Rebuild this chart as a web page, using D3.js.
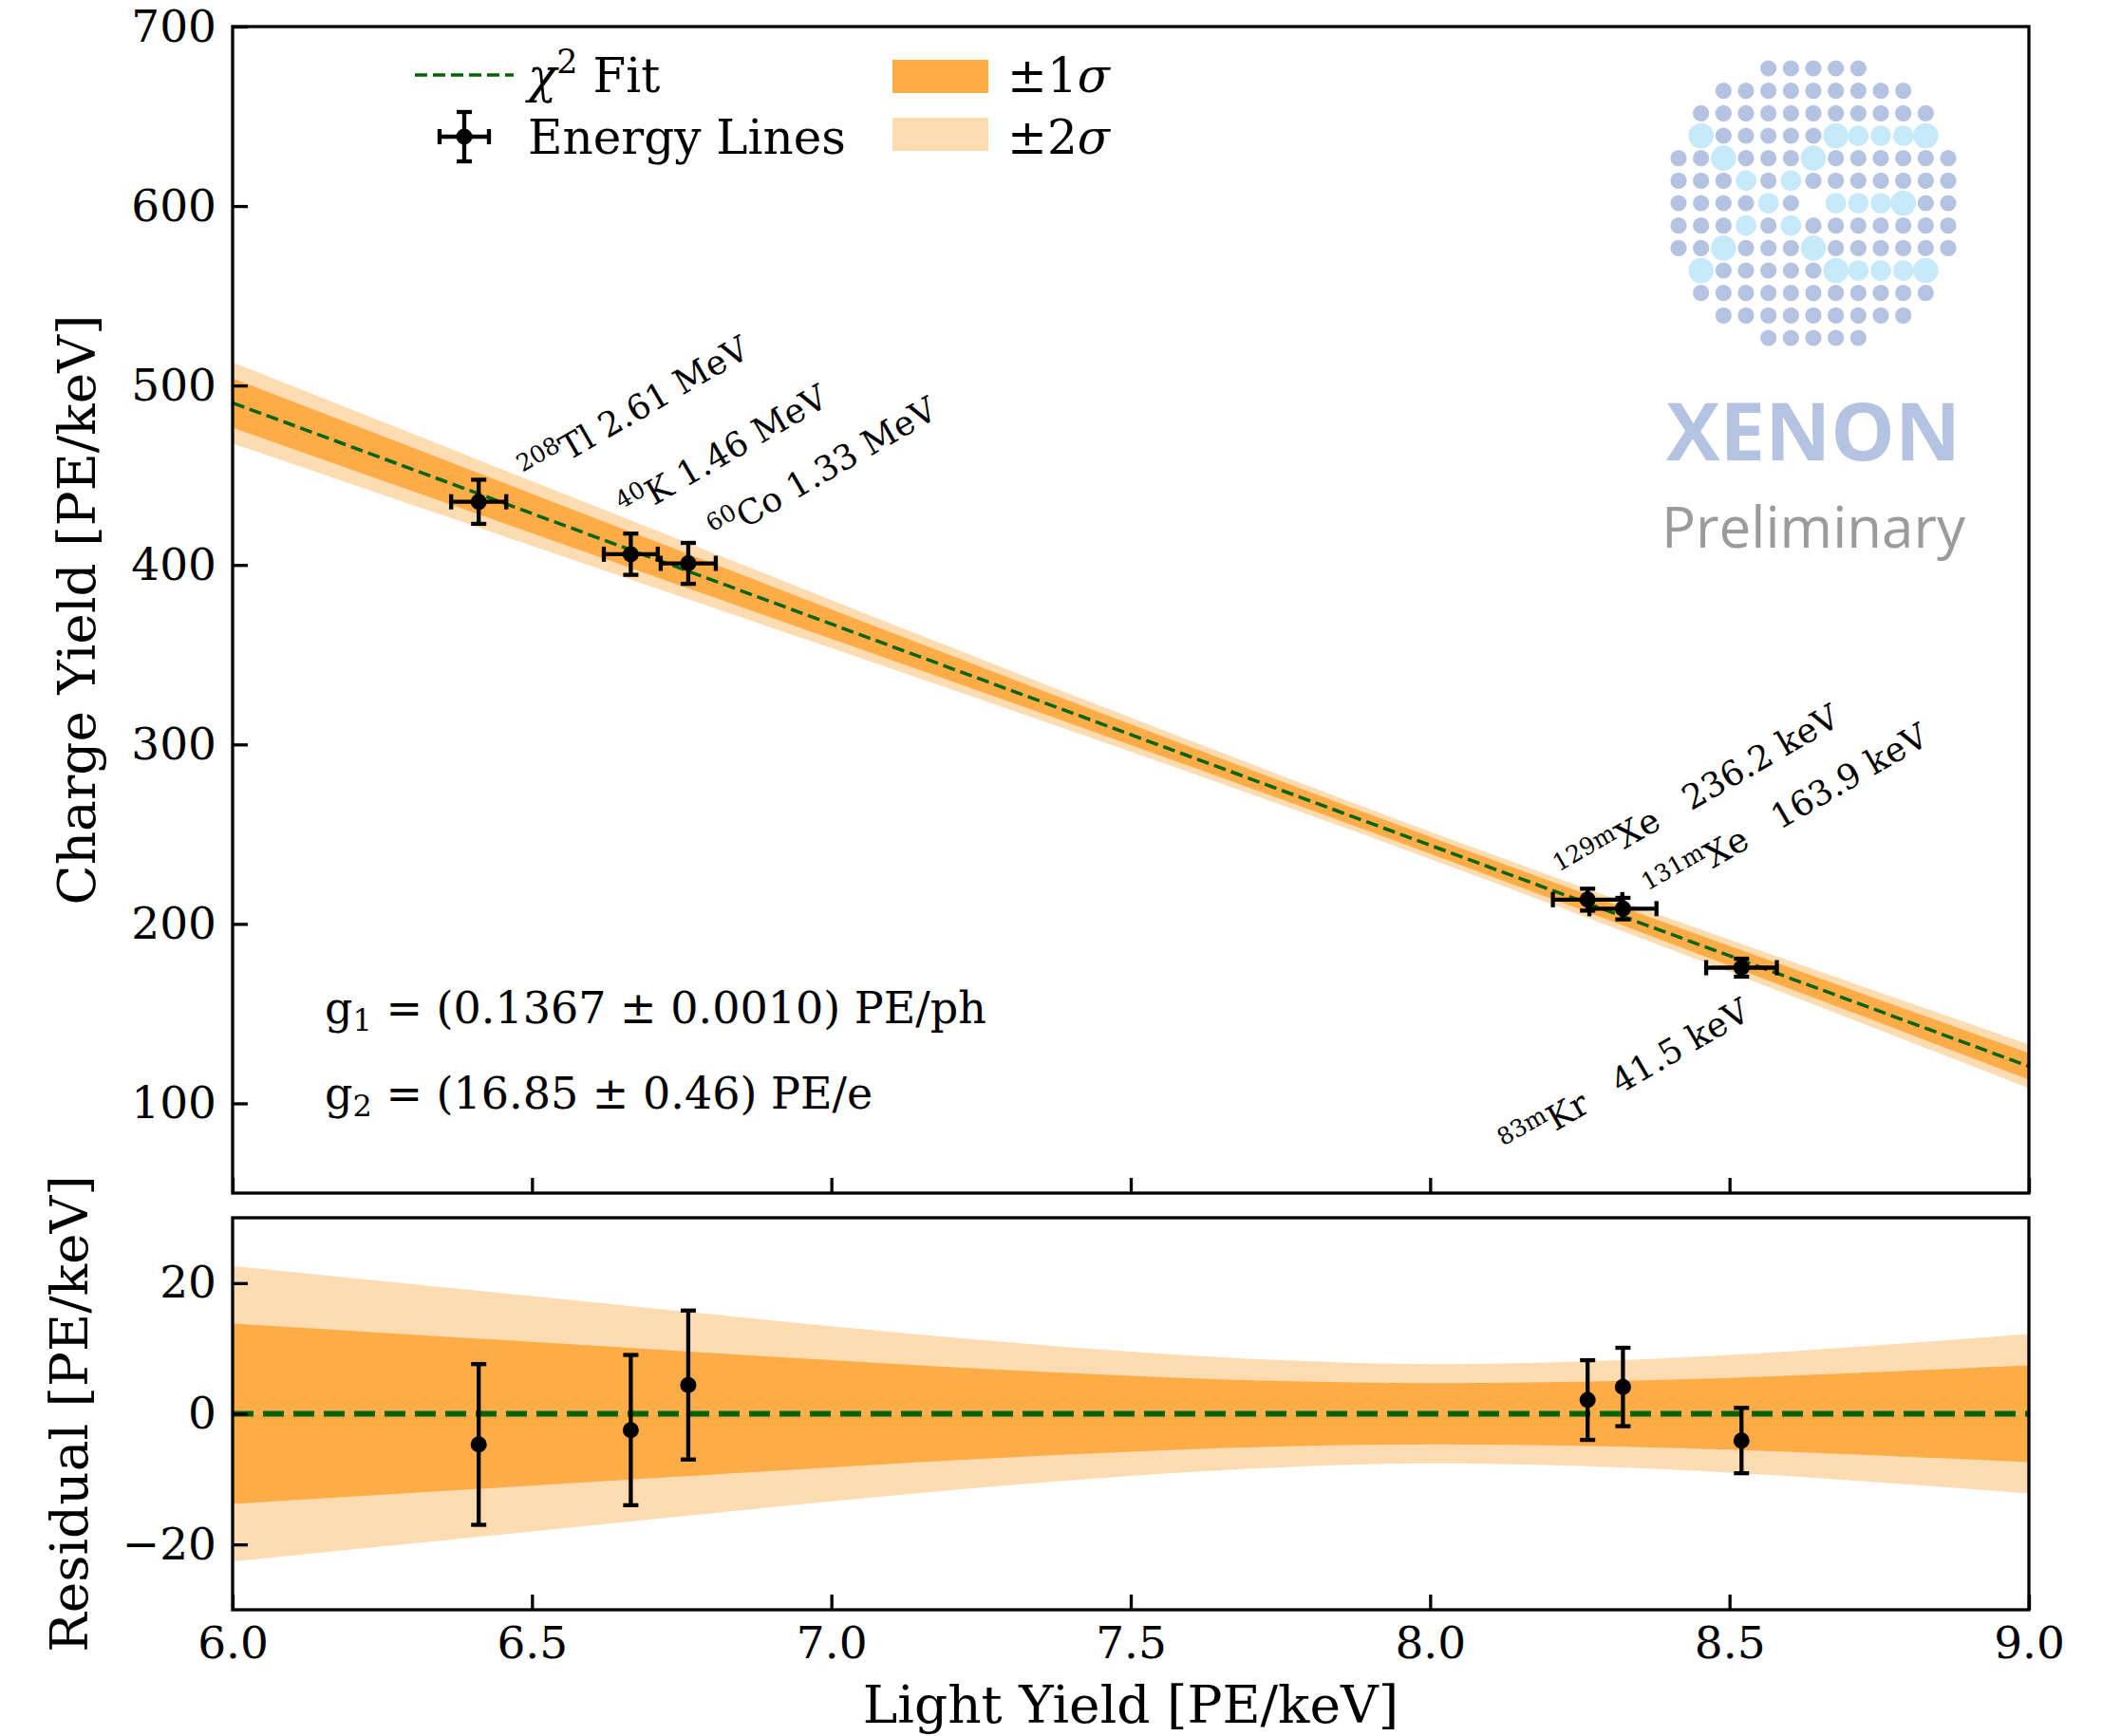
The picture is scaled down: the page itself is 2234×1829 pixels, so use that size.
<!DOCTYPE html>
<html>
<head>
<meta charset="utf-8">
<script src="https://cdn.jsdelivr.net/npm/d3@7"></script>
<style>
body { margin: 0; background: #fff; }
svg text { font-family: "DejaVu Serif", serif; fill: #000; }
</style>
</head>
<body>
<div id="chart"></div>
<script>
// energy lines
var lightYield  = [6.411, 6.665, 6.761, 8.263, 8.322, 8.520];
var lightErr    = [0.046, 0.045, 0.046, 0.058, 0.056, 0.059];
var chargeYield = [435.2, 406.0, 400.9, 213.5, 208.5, 175.6];
var chargeErr   = [12.3, 11.5, 11.4, 6.1, 6.0, 5.0];
var residual    = [-4.7, -2.5, 4.4, 2.1, 4.1, -4.1];

// annotation texts
var isotope = ["208", "40", "60", "129m", "131m", "83m"];
var element = ["Tl", "K", "Co", "Xe", "Xe", "Kr"];
var lineEnergy = ["2.61 MeV", "1.46 MeV", "1.33 MeV", "236.2 keV", "163.9 keV", "41.5 keV"];
var energyGap = [" ", " ", " ", "   ", "   ", "   "];
// where each label starts, in data units
var labelLY = [6.495, 6.660, 6.812, 8.226, 8.374, 8.133];
var labelCY = [445.1, 424.5, 411.8, 222.5, 211.9, 69.6];

// chi2 fit line end points
var fitLY = [6.0, 9.0];
var fitCY = [490.3, 120.6];

// fit uncertainty half widths
var bandLY  = [6.0, 6.25, 6.5, 6.75, 7.0, 7.25, 7.5, 7.75, 8.0, 8.25, 8.5, 8.75, 9.0];
var sigma1  = [13.8, 12.4, 11.0, 9.6, 8.2, 6.9, 5.8, 5.0, 4.7, 4.9, 5.5, 6.4, 7.4];
var sigma2  = [22.6, 20.3, 18.0, 15.7, 13.4, 11.3, 9.5, 8.2, 7.6, 8.0, 9.0, 10.5, 12.2];

var xTicks = [6.0, 6.5, 7.0, 7.5, 8.0, 8.5, 9.0];
var yTicks = [100, 200, 300, 400, 500, 600, 700];
var rTicks = [-20, 0, 20];

// logo pattern: d = blue dot, l / L = light dot (medium / big)
var logoRows = [
    "....ddddd....",
    "..ddddddddd..",
    ".ddddddddddd.",
    ".LdddddLlllL.",
    "ddLdddLdddddd",
    "dddldlddddddd",
    "ddddld.lllLdd",
    "dddldlddddddd",
    "ddLdddLdddddd",
    ".LdddddLlllL.",
    ".ddddddddddd.",
    "..ddddddddd..",
    "....ddddd...."
];

var W = 2234, H = 1829;
var left = 245, right = 2137;
var top1 = 28, bot1 = 1257, top2 = 1283, bot2 = 1696;

var c1 = "#fdac48", c2 = "#fedcb1", green = "#006400";

var svg = d3.select("#chart").append("svg")
    .attr("width", W)
    .attr("height", H);

var x = d3.scaleLinear().domain([6, 9]).range([left, right]);
var y = d3.scaleLinear().domain([50, 700]).range([bot1, top1]);
var yr = d3.scaleLinear().domain([-30, 30]).range([bot2, top2]);
var fit = d3.scaleLinear().domain(fitLY).range(fitCY);

var defs = svg.append("defs");
defs.append("clipPath").attr("id", "clip1").append("rect")
    .attr("x", left).attr("y", top1).attr("width", right - left).attr("height", bot1 - top1);
defs.append("clipPath").attr("id", "clip2").append("rect")
    .attr("x", left).attr("y", top2).attr("width", right - left).attr("height", bot2 - top2);

// ---------- top panel ----------
var p1 = svg.append("g").attr("clip-path", "url(#clip1)");

function bandArea(yScale, center, widths) {
    return d3.area()
        .curve(d3.curveMonotoneX)
        .x(function (d, i) { return x(bandLY[i]); })
        .y0(function (d, i) { return yScale(center(bandLY[i]) - widths[i]); })
        .y1(function (d, i) { return yScale(center(bandLY[i]) + widths[i]); });
}

p1.append("path").datum(bandLY)
    .attr("d", bandArea(y, fit, sigma2))
    .attr("fill", c2);
p1.append("path").datum(bandLY)
    .attr("d", bandArea(y, fit, sigma1))
    .attr("fill", c1);

p1.append("line")
    .attr("x1", x(fitLY[0])).attr("y1", y(fitCY[0]))
    .attr("x2", x(fitLY[1])).attr("y2", y(fitCY[1]))
    .attr("stroke", green)
    .attr("stroke-width", 3.5)
    .attr("stroke-dasharray", "13,6");

function errorBars(g, xs, ys, yScale, xe, ye) {
    var pts = g.selectAll("g.pt").data(xs).enter().append("g").attr("class", "pt");
    if (xe) {
        pts.append("line")
            .attr("x1", function (d, i) { return x(d - xe[i]); })
            .attr("x2", function (d, i) { return x(d + xe[i]); })
            .attr("y1", function (d, i) { return yScale(ys[i]); })
            .attr("y2", function (d, i) { return yScale(ys[i]); });
        pts.selectAll("line.capx").data(function (d, i) { return [[d - xe[i], ys[i]], [d + xe[i], ys[i]]]; })
            .enter().append("line")
            .attr("x1", function (d) { return x(d[0]); })
            .attr("x2", function (d) { return x(d[0]); })
            .attr("y1", function (d) { return yScale(d[1]) - 8; })
            .attr("y2", function (d) { return yScale(d[1]) + 8; });
    }
    pts.append("line")
        .attr("x1", function (d) { return x(d); })
        .attr("x2", function (d) { return x(d); })
        .attr("y1", function (d, i) { return yScale(ys[i] - ye[i]); })
        .attr("y2", function (d, i) { return yScale(ys[i] + ye[i]); });
    pts.selectAll("line.capy").data(function (d, i) { return [[d, ys[i] - ye[i]], [d, ys[i] + ye[i]]]; })
        .enter().append("line")
        .attr("x1", function (d) { return x(d[0]) - 8; })
        .attr("x2", function (d) { return x(d[0]) + 8; })
        .attr("y1", function (d) { return yScale(d[1]); })
        .attr("y2", function (d) { return yScale(d[1]); });
    pts.selectAll("line").attr("stroke", "#000").attr("stroke-width", 4.3);
    pts.append("circle")
        .attr("cx", function (d) { return x(d); })
        .attr("cy", function (d, i) { return yScale(ys[i]); })
        .attr("r", 8.5)
        .attr("fill", "#000");
}

errorBars(svg.append("g"), lightYield, chargeYield, y, lightErr, chargeErr);

// energy line labels
var lab = svg.append("g").selectAll("text").data(isotope).enter().append("text")
    .attr("transform", function (d, i) {
        return "translate(" + x(labelLY[i]) + "," + y(labelCY[i]) + ") rotate(-30)";
    })
    .attr("font-size", 36)
    .style("white-space", "pre");
lab.append("tspan").attr("font-size", 25).attr("dy", -14).text(function (d) { return d; });
lab.append("tspan").attr("dy", 14).text(function (d, i) { return element[i] + energyGap[i] + lineEnergy[i]; });

// gain values
var gtxt = [["1", " = (0.1367 \u00b1 0.0010) PE/ph"], ["2", " = (16.85 \u00b1 0.46) PE/e"]];
var gy = [1078, 1168];
gtxt.forEach(function (t, i) {
    var tx = svg.append("text").attr("x", 342).attr("y", gy[i]).attr("font-size", 46)
        .style("white-space", "pre");
    tx.append("tspan").text("g");
    tx.append("tspan").attr("font-size", 32).attr("dy", 8).text(t[0]);
    tx.append("tspan").attr("dy", -8).text(t[1]);
});

// ---------- residual panel ----------
var p2 = svg.append("g").attr("clip-path", "url(#clip2)");
var zero = function () { return 0; };
p2.append("path").datum(bandLY)
    .attr("d", bandArea(yr, zero, sigma2))
    .attr("fill", c2);
p2.append("path").datum(bandLY)
    .attr("d", bandArea(yr, zero, sigma1))
    .attr("fill", c1);
p2.append("line")
    .attr("x1", left).attr("x2", right)
    .attr("y1", yr(0)).attr("y2", yr(0))
    .attr("stroke", green)
    .attr("stroke-width", 6)
    .attr("stroke-dasharray", "22,10");

errorBars(svg.append("g"), lightYield, residual, yr, null, chargeErr);

// ---------- axes ----------
function styleAxis(g) {
    g.select(".domain").remove();
    g.selectAll(".tick line").attr("stroke", "#000").attr("stroke-width", 3.3);
    g.selectAll(".tick text").attr("font-size", 47).attr("font-family", "DejaVu Serif").attr("fill", "#000");
}

svg.append("g").attr("transform", "translate(" + left + ",0)")
    .call(d3.axisLeft(y).tickValues(yTicks).tickFormat(d3.format("d")).tickSizeInner(-16).tickSizeOuter(0).tickPadding(17))
    .call(styleAxis);
svg.append("g").attr("transform", "translate(0," + bot1 + ")")
    .call(d3.axisBottom(x).tickValues(xTicks).tickFormat("").tickSizeInner(-16).tickSizeOuter(0))
    .call(styleAxis);
svg.append("g").attr("transform", "translate(" + left + ",0)")
    .call(d3.axisLeft(yr).tickValues(rTicks).tickFormat(d3.format("d")).tickSizeInner(-16).tickSizeOuter(0).tickPadding(17))
    .call(styleAxis);
svg.append("g").attr("transform", "translate(0," + bot2 + ")")
    .call(d3.axisBottom(x).tickValues(xTicks).tickFormat(d3.format(".1f")).tickSizeInner(-16).tickSizeOuter(0).tickPadding(18))
    .call(styleAxis);

[[top1, bot1], [top2, bot2]].forEach(function (p) {
    svg.append("rect")
        .attr("x", left).attr("y", p[0])
        .attr("width", right - left).attr("height", p[1] - p[0])
        .attr("fill", "none").attr("stroke", "#000").attr("stroke-width", 3.3);
});

svg.append("text")
    .attr("transform", "translate(100," + ((top1 + bot1) / 2) + ") rotate(-90)")
    .attr("text-anchor", "middle").attr("font-size", 55)
    .text("Charge Yield [PE/keV]");
svg.append("text")
    .attr("transform", "translate(92," + ((top2 + bot2) / 2) + ") rotate(-90)")
    .attr("text-anchor", "middle").attr("font-size", 55)
    .text("Residual [PE/keV]");
svg.append("text")
    .attr("x", (left + right) / 2).attr("y", 1815)
    .attr("text-anchor", "middle").attr("font-size", 55)
    .text("Light Yield [PE/keV]");

// ---------- legend ----------
var leg = svg.append("g").attr("font-size", 50);
leg.append("line")
    .attr("x1", 437).attr("x2", 541).attr("y1", 79).attr("y2", 79)
    .attr("stroke", green).attr("stroke-width", 3.5).attr("stroke-dasharray", "13,6");
var chi = leg.append("text").attr("x", 556).attr("y", 97);
chi.append("tspan").attr("font-style", "italic").text("\u03c7");
chi.append("tspan").attr("font-size", 35).attr("dy", -20).text("2");
chi.append("tspan").attr("dy", 20).text(" Fit");

var lm = leg.append("g").attr("transform", "translate(489,144)");
lm.append("line").attr("x1", -26).attr("x2", 26).attr("y1", 0).attr("y2", 0);
lm.append("line").attr("x1", 0).attr("x2", 0).attr("y1", -26).attr("y2", 26);
lm.append("line").attr("x1", -26).attr("x2", -26).attr("y1", -8).attr("y2", 8);
lm.append("line").attr("x1", 26).attr("x2", 26).attr("y1", -8).attr("y2", 8);
lm.append("line").attr("x1", -8).attr("x2", 8).attr("y1", -26).attr("y2", -26);
lm.append("line").attr("x1", -8).attr("x2", 8).attr("y1", 26).attr("y2", 26);
lm.selectAll("line").attr("stroke", "#000").attr("stroke-width", 4.3);
lm.append("circle").attr("r", 8.5).attr("fill", "#000");
leg.append("text").attr("x", 556).attr("y", 162).text("Energy Lines");

leg.append("rect").attr("x", 940).attr("y", 63).attr("width", 101).attr("height", 35).attr("fill", c1);
leg.append("rect").attr("x", 940).attr("y", 124).attr("width", 101).attr("height", 35).attr("fill", c2);
["1", "2"].forEach(function (n, i) {
    var t = leg.append("text").attr("x", 1061).attr("y", 97 + i * 65);
    t.append("tspan").text("\u00b1" + n);
    t.append("tspan").attr("font-style", "italic").text("\u03c3");
});

// ---------- XENON logo ----------
var logo = svg.append("g");
var lx = d3.scaleLinear().domain([0, 12]).range([1768, 2052]);
var ly = d3.scaleLinear().domain([0, 12]).range([72, 356]);
var dots = [];
logoRows.forEach(function (row, r) {
    row.split("").forEach(function (ch, c) {
        if (ch !== ".") dots.push({r: r, c: c, t: ch});
    });
});
logo.selectAll("circle").data(dots).enter().append("circle")
    .attr("cx", function (d) { return lx(d.c); })
    .attr("cy", function (d) { return ly(d.r); })
    .attr("r", function (d) { return d.t === "d" ? 8.6 : (d.t === "l" ? 10.8 : 13.3); })
    .attr("fill", function (d) { return d.t === "d" ? "#b3c3e1" : "#c6eafa"; });
logo.append("text")
    .attr("x", 1910).attr("y", 485)
    .attr("text-anchor", "middle")
    .attr("font-weight", "bold")
    .attr("font-size", 85)
    .style("font-family", "'Open Sans', sans-serif")
    .style("fill", "#b3c3e1")
    .text("XENON");
logo.append("text")
    .attr("x", 1910).attr("y", 577)
    .attr("text-anchor", "middle")
    .attr("font-size", 60)
    .style("font-family", "'Open Sans', sans-serif")
    .style("fill", "#9b9b9b")
    .text("Preliminary");
</script>
</body>
</html>
